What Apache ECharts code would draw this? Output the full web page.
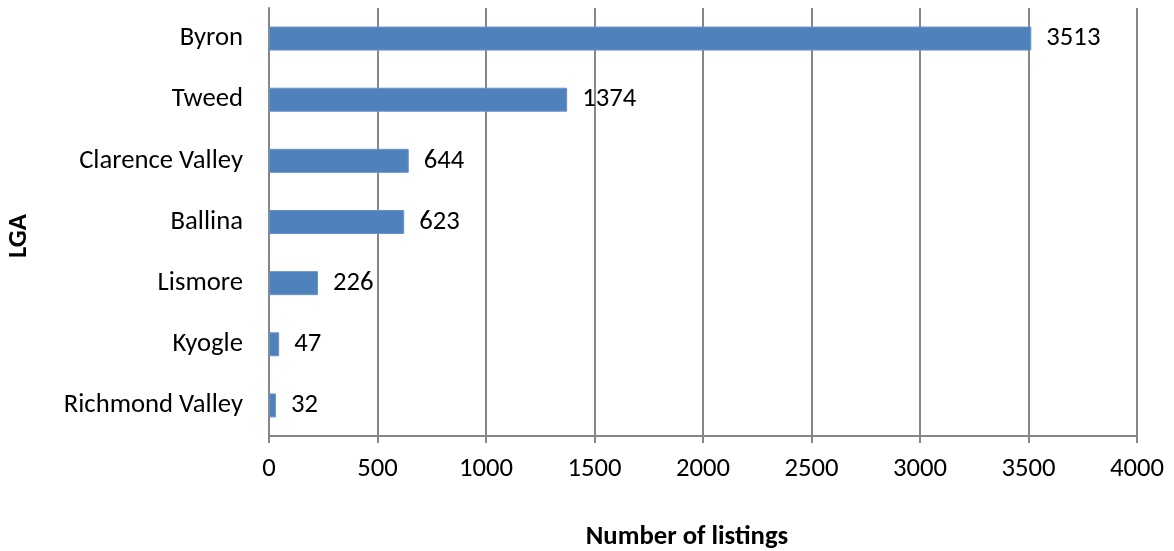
<!DOCTYPE html>
<html><head><meta charset="utf-8">
<script src="https://cdn.jsdelivr.net/npm/echarts@6/dist/echarts.min.js"></script>
<style>html,body{margin:0;padding:0;background:#fff}#c{width:1174px;height:551px}</style>
</head><body><div id="c"></div>
<script>
const categories = ["Richmond Valley","Kyogle","Lismore","Ballina","Clarence Valley","Tweed","Byron"];
const values = [32,47,226,623,644,1374,3513];
const xTicks = {min:0, max:4000, interval:500};
const font = "Carlito, Calibri, 'Open Sans', sans-serif";
const fs = 26.7;
const chart = echarts.init(document.getElementById('c'), null, {renderer:'canvas'});
chart.setOption({
  animation:false,
  grid:{left:269, right:37, top:8, bottom:115, containLabel:false, outerBoundsMode:'none'},
  xAxis:{type:'value', min:xTicks.min, max:xTicks.max, interval:xTicks.interval,
    name:'Number of listings', nameLocation:'middle', nameGap:88,
    nameTextStyle:{fontFamily:font, fontSize:fs, fontWeight:'bold', color:'#000', padding:[0,32,0,0]},
    axisLine:{show:true, lineStyle:{color:'#868686', width:2}},
    axisTick:{show:true, length:7, lineStyle:{color:'#868686', width:2}},
    axisLabel:{fontFamily:font, fontSize:fs, color:'#000', margin:20, formatter:v=>String(v)},
    splitLine:{show:true, lineStyle:{color:'#868686', width:2}}},
  yAxis:{type:'category', data:categories,
    name:'LGA', nameLocation:'middle', nameGap:236, nameRotate:90,
    nameTextStyle:{fontFamily:font, fontSize:fs, fontWeight:'bold', color:'#000', padding:[0,28,0,0]},
    axisLine:{show:true, lineStyle:{color:'#868686', width:2}},
    axisTick:{show:false},
    axisLabel:{fontFamily:font, fontSize:fs, color:'#000', margin:26}},
  series:[{type:'bar', data:values, barWidth:24,
    itemStyle:{color:'#4F81BD', borderColor:'#6A93C8', borderWidth:1},
    label:{show:true, position:'right', distance:15, fontFamily:font, fontSize:fs, color:'#000'}}]
});
</script></body></html>
